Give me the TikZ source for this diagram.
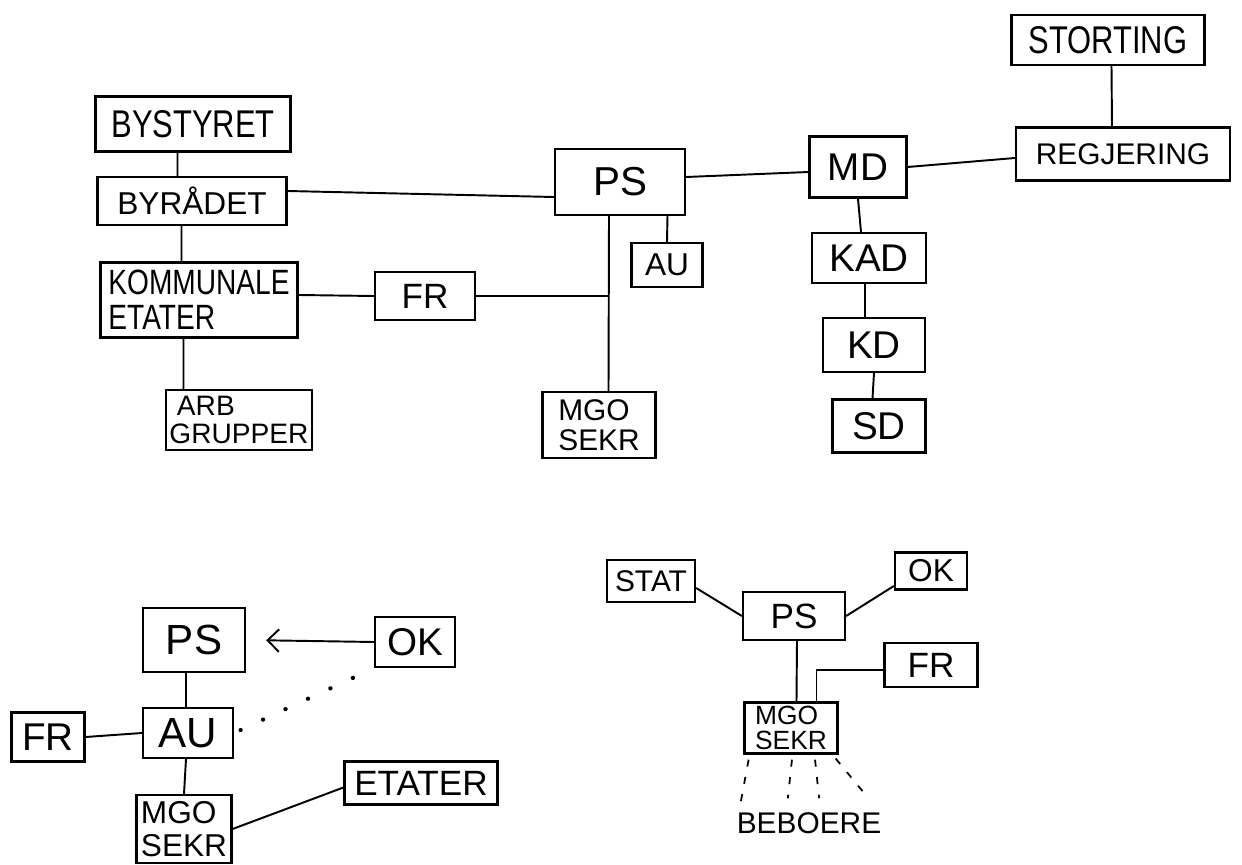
\documentclass[tikz,border=0pt]{standalone}
\usepackage{fontspec}
\setmainfont{Liberation Sans}
\newfontfamily\hand[FakeStretch=0.8]{Liberation Sans}
\newcommand{\fsz}[1]{\fontsize{#1}{#1}\selectfont}
\usetikzlibrary{arrows.meta}
\tikzset{
  box/.style={rectangle,draw,line width=1.3pt,inner sep=2pt},
  sz/.style 2 args={minimum width=#1*0.02cm,minimum height=#2*0.02cm},
  link/.style={line width=1.1pt},
  dotline/.style={line width=2.4pt,line cap=round,dash pattern=on .1pt off 14pt},
  tickline/.style={line width=1pt,dash pattern=on 4pt off 6pt}
}
\begin{document}
\begin{tikzpicture}[x=0.02cm,y=-0.02cm]
\useasboundingbox (0,0) rectangle (1242,865);
% kommune
\node at (193,124) [box,sz={195}{55},font=\hand\fsz{22}] (bystyret) {BYSTYRET};
\node at (192,201) [box,sz={189}{48},font=\fsz{18}] (byraadet) {BYRÅDET};
\node at (199,300) [box,sz={197}{75},font=\hand\fsz{20},align=left] (kommunale) {KOMMUNALE\\ETATER};
\node at (239,420) [box,sz={145}{60},font=\fsz{16},align=left] (arb) {\hspace*{.15cm}ARB\\GRUPPER};
\node at (425,296) [box,sz={100}{48},font=\fsz{20}] (frA) {FR};
%
\node at (620,182) [box,sz={130}{66},font=\fsz{23}] (psA) {PS};
\node at (667,265) [box,sz={71}{44},font=\fsz{18}] (auA) {AU};
\node at (599,425) [box,sz={113}{66},font=\fsz{17},align=left] (mgoA) {MGO\\SEKR};
%
\node at (858,167) [box,sz={97}{61},font=\fsz{22}] (md) {MD};
\node at (869,258) [box,sz={114}{50},font=\fsz{22}] (kad) {KAD};
\node at (874,345) [box,sz={102}{54},font=\fsz{22}] (kd) {KD};
\node at (879,426) [box,sz={93}{53},font=\fsz{22}] (sd) {SD};
%
\node at (1108,40) [box,sz={193}{50},font=\hand\fsz{22}] (storting) {STORTING};
\node at (1123,154) [box,sz={214}{53},font=\fsz{17}] (regjering) {REGJERING};
%
\coordinate (psfoot) at ([xshift=-.22cm]psA.south);
%
\draw[link] ([xshift=-.31cm]bystyret.south) -- ([xshift=-.29cm]byraadet.north);
\draw[link] ([xshift=-.21cm]byraadet.south) -- ([xshift=-.35cm]kommunale.north);
\draw[link] ([xshift=-.31cm]kommunale.south) -- ([xshift=-1.11cm]arb.north);
\draw[link] ([yshift=.2cm]byraadet.east) -- ([yshift=-.3cm]psA.west);
\draw[link] ([yshift=.1cm]kommunale.east) -- (frA.west);
\draw[link] (frA.east) -- (frA.east -| psfoot);
\draw[link] (psfoot) -- ([xshift=.19cm]mgoA.north);
\draw[link] ([xshift=.95cm]psA.south) -- (auA.north);
\draw[link] ([yshift=.1cm]psA.east) -- ([yshift=-.1cm]md.west);
\draw[link] (md.east) -- ([yshift=-.08cm]regjering.west);
\draw[link] ([xshift=.07cm]storting.south) -- ([xshift=-.22cm]regjering.north);
%
\draw[link] (md.south) -- ([xshift=-.16cm]kad.north);
\draw[link] ([xshift=-.08cm]kad.south) -- ([xshift=-.18cm]kd.north);
\draw[link] (kd.south) -- ([xshift=-.13cm]sd.north);
%
% nede til venstre
\node at (194,640) [box,sz={102}{64},font=\fsz{24}] (psB) {PS};
\node at (415,642) [box,sz={80}{50},font=\fsz{22}] (okB) {OK};
\node at (188,733) [box,sz={90}{50},font=\fsz{24}] (auB) {AU};
\node at (48,737) [box,sz={73}{49},font=\fsz{22}] (frB) {FR};
\node at (184,829) [box,sz={95}{68},font=\fontsize{18}{19}\selectfont,align=left] (mgoB) {MGO\\SEKR};
\node at (421,783) [box,sz={153}{43},font=\fsz{20}] (etater) {ETATER};
%
\draw[link,-{Straight Barb[length=.23cm,width=.45cm]},shorten >=.4cm] (okB.west) -- (psB.east);
\draw[link] ([xshift=-.16cm]psB.south) -- ([xshift=-.04cm]auB.north);
\draw[link] (frB.east) -- (auB.west);
\draw[link] ([xshift=-.04cm]auB.south) -- (mgoB.north);
\draw[link] (mgoB.east) -- ([yshift=-.09cm]etater.west);
\draw[dotline,shorten <=.14cm,shorten >=.46cm] (auB.east) -- (okB.south west);
%
% nede til hoyre
\node at (651,581) [box,sz={88}{42},font=\fsz{17}] (stat) {STAT};
\node at (794,616) [box,sz={102}{48},font=\fsz{20}] (psC) {PS};
\node at (931,571) [box,sz={72}{37},font=\fsz{18}] (okC) {OK};
\node at (931,665) [box,sz={93}{44},font=\fsz{20}] (frC) {FR};
\node at (791,728) [box,sz={93}{50},font=\fontsize{15}{14.5}\selectfont,align=left] (mgoC) {MGO\\SEKR};
\node at (809,823) [font=\fsz{17}] (beboere) {BEBOERE};
%
\draw[link] ([yshift=-.14cm]stat.east) -- (psC.west);
\draw[link] (psC.east) -- ([yshift=-.3cm]okC.west);
\draw[link] ([xshift=.06cm]psC.south) -- ([xshift=.11cm]mgoC.north);
\draw[link] ([yshift=-.1cm]frC.west) -| ([xshift=.51cm]mgoC.north);
%
\draw[tickline,shorten <=.1cm,shorten >=.06cm] ([xshift=-.83cm]mgoC.south) -- ([xshift=-1.38cm]beboere.north);
\draw[tickline,shorten <=.1cm,shorten >=.16cm] ([xshift=.03cm]mgoC.south) -- ([xshift=-.44cm]beboere.north);
\draw[tickline,shorten <=.1cm,shorten >=.16cm] ([xshift=.47cm]mgoC.south) -- ([xshift=.22cm]beboere.north);
\draw[tickline,shorten <=.1cm,shorten >=.26cm] ([xshift=.83cm]mgoC.south) -- ([xshift=1.32cm]beboere.north);
\end{tikzpicture}
\end{document}
